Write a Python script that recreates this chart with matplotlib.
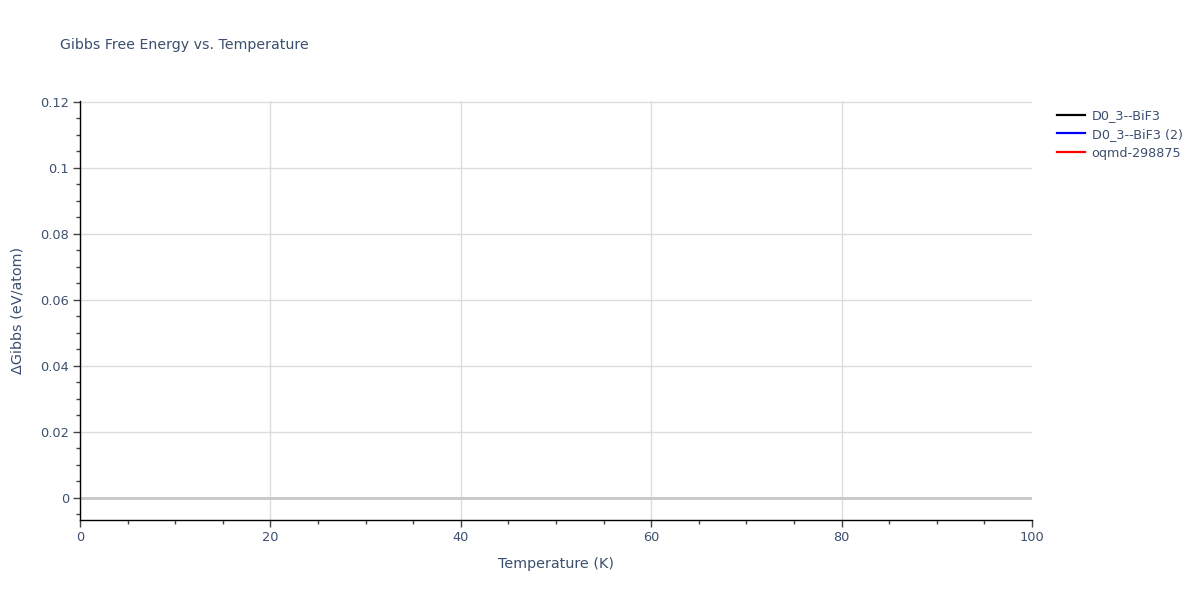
import numpy as np
import matplotlib.pyplot as plt
from matplotlib.ticker import MultipleLocator

# traces shown in the legend; the lines themselves carry no visible data
series_names = ['D0_3--BiF3', 'D0_3--BiF3 (2)', 'oqmd-298875']
series_colors = ['black', 'blue', 'red']
temps = [[], [], []]
dgibbs = [[], [], []]

txt = '#3b4f6e'
plt.rcParams['font.family'] = ['DejaVu Sans']

fig = plt.figure(figsize=(12, 6), dpi=100)
ax = fig.add_axes([80 / 1200, 80 / 600, 952 / 1200, 419 / 600])

lines = []
for name, col, t, g in zip(series_names, series_colors, temps, dgibbs):
    ln, = ax.plot(t, g, color=col, lw=1.6, label=name)
    lines.append(ln)

ax.set_xlim(0, 100)
ax.set_ylim(-0.0067, 0.1203)
ax.set_xticks([0, 20, 40, 60, 80, 100])
ax.xaxis.set_minor_locator(MultipleLocator(5))
ax.yaxis.set_minor_locator(MultipleLocator(0.005))
ax.set_yticks([0, 0.02, 0.04, 0.06, 0.08, 0.1, 0.12])
ax.set_yticklabels(['0', '0.02', '0.04', '0.06', '0.08', '0.1', '0.12'])

ax.grid(True, which='major', color='#dcdcdc', lw=1)
ax.axhline(0, color='#c8c8c8', lw=2, zorder=1)
ax.set_axisbelow(True)
# no gridline on the right edge
for gl, tk in zip(ax.xaxis.get_gridlines(), ax.get_xticks()):
    if tk >= 100:
        gl.set_visible(False)

for s in ['top', 'right']:
    ax.spines[s].set_visible(False)
for s in ['left', 'bottom']:
    ax.spines[s].set_color('black')
    ax.spines[s].set_linewidth(1)

ax.tick_params(which='major', direction='out', length=5, width=1, color='#444444',
               labelcolor=txt, labelsize=9.3, pad=3)
ax.tick_params(which='minor', direction='out', length=3, width=1, color='#444444')

ax.set_xlabel('Temperature (K)', color=txt, fontsize=10.4, labelpad=9)
ax.set_ylabel('ΔGibbs (eV/atom)', color=txt, fontsize=10.4, labelpad=11)

fig.text(60 / 1200, 1 - 45 / 600, 'Gibbs Free Energy vs. Temperature',
         color=txt, fontsize=10.2, va='center', ha='left')

fig.legend(handles=lines, loc='upper left', bbox_to_anchor=(1052 / 1200, 1 - 104 / 600),
           frameon=False, fontsize=9.2, labelcolor=txt, handlelength=2.2,
           handletextpad=0.5, labelspacing=0.45, borderaxespad=0)

fig.savefig('out.png', dpi=100)
